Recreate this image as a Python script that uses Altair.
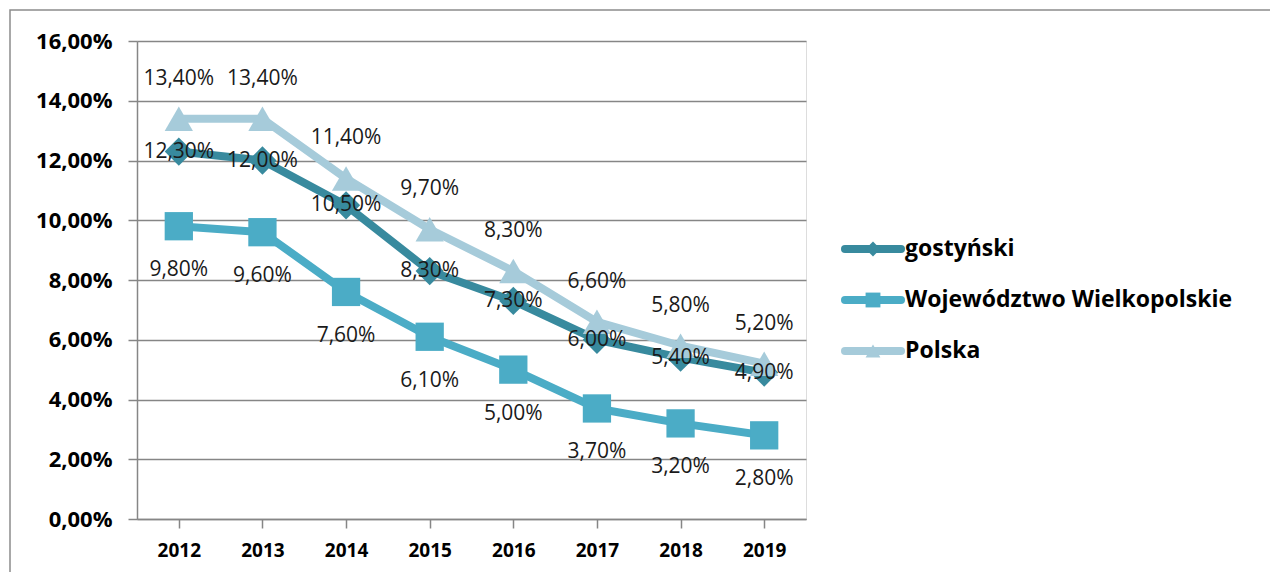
import altair as alt
import pandas as pd

years = ["2012", "2013", "2014", "2015", "2016", "2017", "2018", "2019"]
series = ["gostyński", "Województwo Wielkopolskie", "Polska"]
gostynski = [12.3, 12.0, 10.5, 8.3, 7.3, 6.0, 5.4, 4.9]
wojewodztwo = [9.8, 9.6, 7.6, 6.1, 5.0, 3.7, 3.2, 2.8]
polska = [13.4, 13.4, 11.4, 9.7, 8.3, 6.6, 5.8, 5.2]
colors = ["#388A9E", "#4BACC6", "#A6CBDA"]
shapes = ["diamond", "square", "triangle-up"]
y_ticks = [0, 2, 4, 6, 8, 10, 12, 14, 16]

values = {"gostyński": gostynski, "Województwo Wielkopolskie": wojewodztwo, "Polska": polska}
rows = []
for s in series:
    for y, v in zip(years, values[s]):
        rows.append({"year": y, "series": s, "value": v / 100.0,
                     "label": f"{v:.2f}".replace(".", ",") + "%"})
df = pd.DataFrame(rows)

W, H = 669, 478
FONT = "Open Sans"

x_enc = alt.X("year:N", sort=years, title=None,
              scale=alt.Scale(domain=years, paddingInner=0, paddingOuter=0),
              axis=alt.Axis(labelAngle=0, labelFontSize=19, labelFontWeight="bold",
                            labelColor="#000", labelFont=FONT, domainColor="#868686",
                            domainWidth=1.5, tickColor="#868686", tickWidth=1.5,
                            tickSize=9, bandPosition=0, labelPadding=13, grid=False))
y_enc = alt.Y("value:Q", title=None,
              scale=alt.Scale(domain=[0, 0.16], nice=False),
              axis=alt.Axis(values=[t / 100 for t in y_ticks],
                            labelExpr="replace(format(datum.value*100, '.2f'), '.', ',') + '%'",
                            labelFontSize=22, labelFontWeight="bold", labelColor="#000",
                            labelFont=FONT, domainColor="#868686", domainWidth=1.5,
                            tickColor="#868686", tickWidth=1.5, tickSize=9,
                            labelPadding=16, gridColor="#868686", gridWidth=1.5))

color_scale = alt.Scale(domain=series, range=colors)
shape_scale = alt.Scale(domain=series, range=shapes)

layers = []
# outer frame
frame = alt.Chart(pd.DataFrame({"a": [0]})).mark_rect(
    fill=None, stroke="#8c8c8c", strokeWidth=1.5).encode(
    x=alt.value(-127), x2=alt.value(1138), y=alt.value(-31), y2=alt.value(560))
layers.append(frame)

for s in series:
    d = df[df.series == s]
    line = alt.Chart(d).mark_line(strokeWidth=8, strokeJoin="round").encode(
        x=x_enc, y=y_enc,
        color=alt.Color("series:N", scale=color_scale, legend=None))
    pts = alt.Chart(d).mark_point(filled=True, opacity=1, size=800).encode(
        x=x_enc, y=y_enc,
        color=alt.Color("series:N", scale=color_scale, legend=None),
        shape=alt.Shape("series:N", scale=shape_scale, legend=None))
    layers += [line, pts]

offsets = {"gostyński": 0, "Województwo Wielkopolskie": 44, "Polska": -40}
for s in series:
    d = df[df.series == s]
    txt = alt.Chart(d).mark_text(font=FONT, fontSize=21, color="#1a1a1a",
                                 dy=offsets[s], baseline="middle").encode(
        x=x_enc, y=y_enc, text="label:N")
    layers.append(txt)

# legend
leg_df = pd.DataFrame({"series": series})
leg_y = alt.Y("series:N", sort=series,
              scale=alt.Scale(type="point", domain=series, range=[208, 310], padding=0),
              axis=None)
leg_line = alt.Chart(leg_df).mark_rule(strokeWidth=8, strokeCap="round").encode(
    x=alt.value(708), x2=alt.value(764), y=leg_y,
    color=alt.Color("series:N", scale=color_scale, legend=None))
leg_pt = alt.Chart(leg_df).mark_point(filled=True, opacity=1, size=220).encode(
    x=alt.value(736), y=leg_y,
    color=alt.Color("series:N", scale=color_scale, legend=None),
    shape=alt.Shape("series:N", scale=shape_scale, legend=None))
leg_txt = alt.Chart(leg_df).mark_text(align="left", baseline="middle", font=FONT,
                                      fontSize=23, fontWeight="bold", color="#000").encode(
    x=alt.value(768), y=leg_y, text="series:N")
legend = alt.layer(leg_line, leg_pt, leg_txt)

main = alt.layer(*layers)
chart = alt.layer(main, legend).resolve_scale(y="independent").properties(
    width=W, height=H,
    padding={"left": 129, "top": 33, "right": 464, "bottom": 53},
    autosize=alt.AutoSizeParams(type="none"),
).configure_view(stroke=None).configure(background="white")

chart.save("out.html", embed_options={"renderer": "svg", "actions": False})
